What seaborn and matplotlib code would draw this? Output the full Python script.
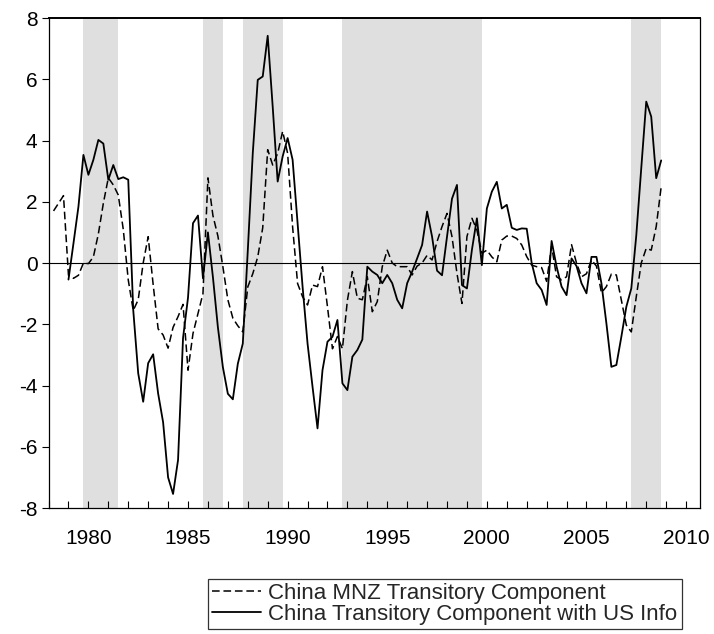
import numpy as np
import pandas as pd
import matplotlib
matplotlib.use("Agg")
import matplotlib.pyplot as plt
import seaborn as sns

# ---------------- data ----------------
mnz_start = "1978Q2"
mnz = [1.7, 1.95, 2.2,
       -0.4, -0.5, -0.4, 0.0,
       -0.02, 0.2, 0.95, 1.95,
       2.78, 2.55, 2.22, 1.1,
       -0.55, -1.55, -1.2, 0.0,
       0.86, -0.7, -2.15, -2.35,
       -2.78, -2.1, -1.75, -1.35,
       -3.5, -2.3, -1.65, -1.0,
       2.78, 1.55, 0.88, -0.12,
       -1.2, -1.8, -2.05, -2.25,
       -0.78, -0.35, 0.2, 1.15,
       3.7, 3.2, 3.58, 4.3,
       3.58, 1.18, -0.67, -1.1,
       -1.37, -0.72, -0.77, -0.12,
       -1.43, -2.8, -2.4, -2.8,
       -1.22, -0.28, -1.15, -1.2,
       -0.45, -1.59, -1.26, -0.12,
       0.42, 0.0, -0.12, -0.12,
       -0.12, -0.39, -0.1, 0.0,
       0.25, 0.1, 0.7, 1.19,
       1.62, 0.86, -0.34, -1.32,
       0.86, 1.46, 1.08, 0.32,
       0.42, 0.2, 0.04, 0.75,
       0.88, 0.88, 0.8, 0.59,
       0.21, -0.07, -0.12, -0.15,
       -0.6, 0.55, -0.45, -0.55,
       -0.45, 0.6, 0.0, -0.45,
       -0.35, 0.1, -0.1, -0.97,
       -0.77, -0.36, -0.39, -1.21,
       -2.03, -2.25, -1.1, 0.0,
       0.48, 0.42, 1.19, 2.49]

us_start = "1979Q1"
us_info = [-0.54, 0.64, 1.84, 3.53,
           2.88, 3.37, 4.02, 3.9,
           2.72, 3.2, 2.74, 2.8,
           2.72, -1.53, -3.6, -4.53,
           -3.27, -2.98, -4.26, -5.2,
           -7.0, -7.54, -6.43, -2.45,
           -1.13, 1.3, 1.55, -0.5,
           1.0, -0.46, -2.1, -3.4,
           -4.27, -4.45, -3.29, -2.63,
           0.4, 3.58, 5.98, 6.09,
           7.42, 5.11, 2.66, 3.48,
           4.08, 3.37, 1.3, -0.77,
           -2.63, -4.04, -5.4, -3.5,
           -2.57, -2.41, -1.86, -3.93,
           -4.15, -3.06, -2.84, -2.5,
           -0.12, -0.28, -0.39, -0.66,
           -0.39, -0.66, -1.2, -1.48,
           -0.66, -0.28, 0.15, 0.59,
           1.68, 0.86, -0.25, -0.4,
           0.86, 2.1, 2.55, -0.72,
           -0.83, 0.43, 1.46, -0.07,
           1.78, 2.33, 2.65, 1.78,
           1.9, 1.15, 1.08, 1.13,
           1.12, 0.0, -0.66, -0.88,
           -1.37, 0.72, -0.12, -0.77,
           -1.05, 0.15, -0.1, -0.66,
           -0.99, 0.2, 0.2, -0.66,
           -1.97, -3.39, -3.33, -2.41,
           -1.43, -0.83, 0.9, 3.1,
           5.27, 4.78, 2.77, 3.35]

shade_start = [1979.75, 1985.75, 1987.75, 1992.75, 2007.25]
shade_end = [1981.5, 1986.75, 1989.75, 1999.75, 2008.75]

labels = ["China MNZ Transitory Component",
          "China Transitory Component with US Info"]
xticks = [1980, 1985, 1990, 1995, 2000, 2005, 2010]
yticks = [-8, -6, -4, -2, 0, 2, 4, 6, 8]


def quarter_years(start, n):
    p = pd.period_range(start=start, periods=n, freq="Q")
    return p.year + (p.quarter - 1) / 4.0


df_mnz = pd.DataFrame({"t": quarter_years(mnz_start, len(mnz)), "v": mnz})
df_us = pd.DataFrame({"t": quarter_years(us_start, len(us_info)), "v": us_info})

# ---------------- style ----------------
sns.set_style("white")
plt.rcParams["font.family"] = ["Liberation Sans", "DejaVu Sans"]
plt.rcParams["axes.unicode_minus"] = False

fig = plt.figure(figsize=(7.14, 6.34), dpi=100)
ax = fig.add_axes([0.068, 0.1987, 0.913, 0.7729])

for s, e in zip(shade_start, shade_end):
    ax.axvspan(s, e, color="#dfdfdf", lw=0, zorder=0)

ax.axhline(0, color="black", lw=0.8, zorder=1)

sns.lineplot(data=df_mnz, x="t", y="v", ax=ax, color="black", lw=1.1,
             linestyle=(0, (5, 2.5)), label=labels[0], zorder=3)
sns.lineplot(data=df_us, x="t", y="v", ax=ax, color="black", lw=1.3,
             label=labels[1], zorder=4)

ax.set_xlim(1978.0, 2010.72)
ax.set_ylim(-8, 8)
ax.set_xticks(xticks)
ax.set_xticks(np.arange(1978, 2011), minor=True)
ax.set_yticks(yticks)
ax.set_xlabel("")
ax.set_ylabel("")
ax.tick_params(axis="x", which="both", direction="in", length=5, width=0.8,
               labelsize=15, pad=15, bottom=True, top=False, colors="black")
ax.tick_params(axis="y", which="both", direction="out", length=5, width=0.8,
               labelsize=15, pad=3, left=True, right=False, colors="black")
for sp in ax.spines.values():
    sp.set_color("black")
    sp.set_linewidth(0.9)
ax.spines["top"].set_linewidth(1.4)

leg = ax.legend(loc="upper left", bbox_to_anchor=(0.291, 0.0868),
                bbox_transform=fig.transFigure, frameon=True, fancybox=False,
                edgecolor="black", fontsize=16, handlelength=2.2,
                handletextpad=0.35, labelspacing=0.0, borderpad=0.18,
                borderaxespad=0)
leg.get_frame().set_linewidth(0.9)

fig.savefig("out.png", dpi=100)
